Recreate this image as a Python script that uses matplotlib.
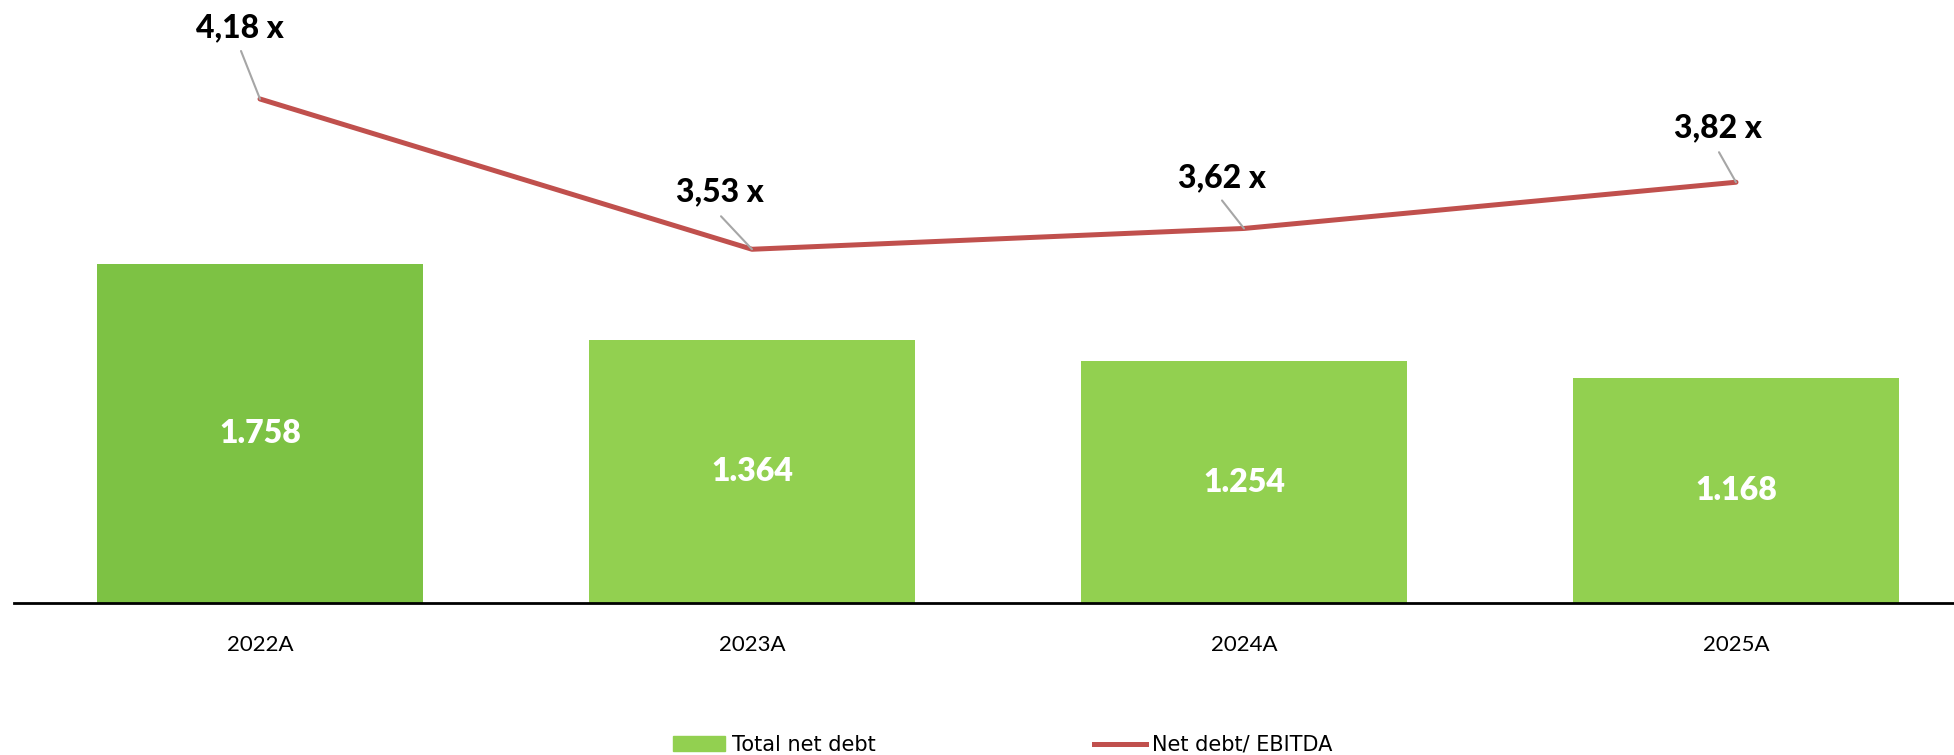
import matplotlib.pyplot as plt
import numpy as np

years = ["2022A", "2023A", "2024A", "2025A"]
net_debt = [1758, 1364, 1254, 1168]
net_debt_labels = ["1.758", "1.364", "1.254", "1.168"]
leverage = [4.18, 3.53, 3.62, 3.82]
leverage_labels = ["4,18 x", "3,53 x", "3,62 x", "3,82 x"]

bar_colors = ["#7DC244", "#92D050", "#92D050", "#92D050"]
line_color = "#C0504D"

W, H = 1954, 755
fig = plt.figure(figsize=(W / 100, H / 100), dpi=100)
# axes from x=14px to right edge, y from 603px (baseline) to 25px
ax = fig.add_axes([14 / W, 1 - 603 / H, 1 - 14 / W, (603 - 25) / H])
x = np.arange(len(years))

ax.bar(x, net_debt, width=0.663, color=bar_colors, zorder=2)
for xi, v, lab in zip(x, net_debt, net_debt_labels):
    ax.text(xi, v / 2, lab, ha="center", va="center", color="white",
            fontsize=23, fontweight="heavy", family="Lato")

ax.set_ylim(0, 3000)
ax.set_xlim(-0.5, -0.5 + (W - 14) / 492)
ax.set_xticks(x)
ax.set_xticklabels(years, family="Lato", fontsize=16)
ax.tick_params(axis="x", length=0, pad=23)
ax.set_yticks([])
for s in ["top", "right", "left"]:
    ax.spines[s].set_visible(False)
ax.spines["bottom"].set_linewidth(2)
ax.spines["bottom"].set_color("black")

ax2 = ax.twinx()
ax2.set_ylim(2.0, 4.5)
ax2.plot(x, leverage, color=line_color, lw=3.6, solid_capstyle="round", zorder=3)
ax2.set_yticks([])
for s in ["top", "right", "left", "bottom"]:
    ax2.spines[s].set_visible(False)

# label offsets (pixels): text centre and leader end
text_off = [(-20, 71), (-32, 58), (-22, 51), (-18, 54)]
lead_off = [(-19, 48), (-31, 33), (-22, 28), (-17, 30)]
for xi, v, lab, to, lo in zip(x, leverage, leverage_labels, text_off, lead_off):
    ax2.annotate("", xy=(xi, v), xytext=lo, textcoords="offset pixels",
                 arrowprops=dict(arrowstyle="-", color="#A6A6A6", lw=1.5,
                                 shrinkA=0, shrinkB=0))
    ax2.annotate(lab, xy=(xi, v), xytext=to, textcoords="offset pixels",
                 ha="center", va="center", fontsize=23, fontweight="black",
                 family="Lato")

handles = [plt.Rectangle((0, 0), 1, 1, color="#92D050"),
           plt.Line2D([0], [0], color=line_color, lw=3.6)]
fig.legend(handles, ["Total net debt", "Net debt/ EBITDA"], ncol=2,
           loc="center", bbox_to_anchor=(1003 / W, 1 - 745 / H),
           frameon=False, prop={"family": ["Liberation Sans Narrow", "DejaVu Sans"], "size": 15},
           handlelength=2.5, handletextpad=0.3, columnspacing=10.5,
           handleheight=0.7)

fig.savefig("out.png", dpi=100)
